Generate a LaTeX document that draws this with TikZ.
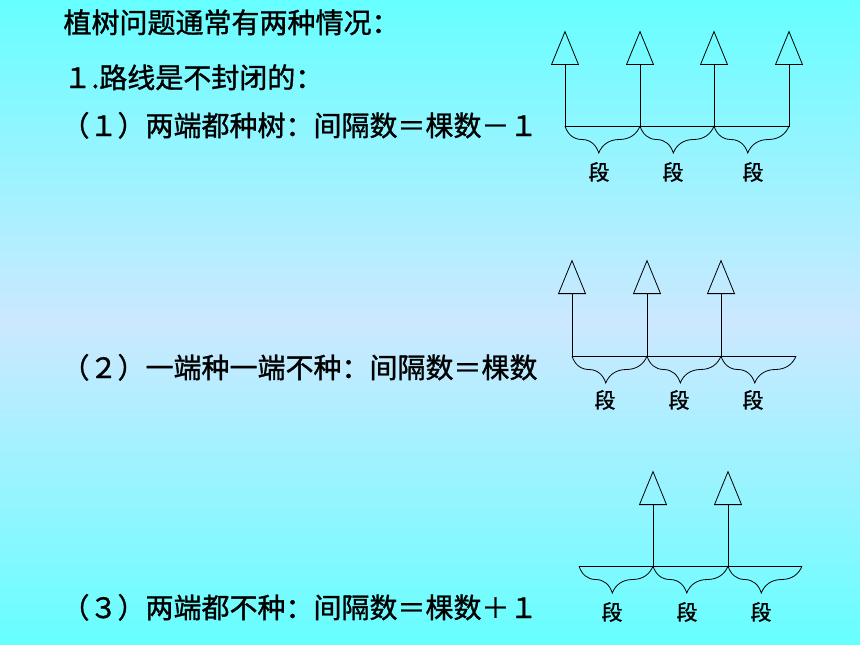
\documentclass[tikz,border=0pt]{standalone}
\usepackage{fontspec}
\setmainfont{Noto Sans CJK SC}[FakeBold=1.2]
\usetikzlibrary{shapes.geometric,decorations.pathreplacing}

\definecolor{bgTop}{RGB}{102,255,255}
\definecolor{bgMid}{RGB}{204,232,255}

\tikzset{
	tree/.style={draw, line width=0.8pt, isosceles triangle, isosceles triangle stretches, shape border rotate=90, minimum width=27pt, minimum height=33pt, inner sep=0pt, anchor=south},
	trunk/.style={line width=0.8pt},
	seg/.style={decorate, decoration={brace, mirror, amplitude=27pt, aspect=0.45}, line width=0.8pt},
	rule/.style={anchor=base west, font=\fontsize{28}{32}\selectfont},
	duan/.style={font=\fontsize{21}{24}\selectfont}
}

\begin{document}
\begin{tikzpicture}[x=1pt, y=-1pt]
	\useasboundingbox (0,0) rectangle (860,645);
	\shade[top color=bgTop, bottom color=bgTop, middle color=bgMid] (0,0) rectangle (860,645);

	% texts
	\node[rule] (head) at (60,33) {植树问题通常有两种情况：};
	\node[rule] (open) at (60,88) {１.路线是不封闭的：};
	\node[rule] (caseA) at (58,136) {（１）两端都种树：间隔数＝棵数－１};
	\node[rule] (caseB) at (58,378) {（２）一端种一端不种：间隔数＝棵数};
	\node[rule] (caseC) at (58,618) {（３）两端都不种：间隔数＝棵数＋１};

	% both ends planted
	\node[tree] (a1) at (565,65) {};
	\node[tree] (a2) at (640,65) {};
	\node[tree] (a3) at (714,65) {};
	\node[tree] (a4) at (789,65) {};
	\coordinate (p1) at (565,126);
	\coordinate (p2) at (640,126);
	\coordinate (p3) at (714,126);
	\coordinate (p4) at (789,126);
	\draw[trunk] (a1.south) -- (p1) -- (p4) -- (a4.south);
	\draw[trunk] (a2.south) -- (p2);
	\draw[trunk] (a3.south) -- (p3);
	\draw[seg] (p1) -- (p2);
	\draw[seg] (p2) -- (p3);
	\draw[seg] (p3) -- (p4);
	\node[duan] (d1) at (599,172) {段};
	\node[duan] (d2) at (673,172) {段};
	\node[duan] (d3) at (753,172) {段};

	% one end planted
	\node[tree] (b1) at (572,294) {};
	\node[tree] (b2) at (647,294) {};
	\node[tree] (b3) at (721,294) {};
	\coordinate (q1) at (572,356);
	\coordinate (q2) at (647,356);
	\coordinate (q3) at (721,356);
	\coordinate (q4) at (796,356);
	\draw[trunk] (b1.south) -- (q1) -- (q4);
	\draw[trunk] (b2.south) -- (q2);
	\draw[trunk] (b3.south) -- (q3);
	\draw[seg] (q1) -- (q2);
	\draw[seg] (q2) -- (q3);
	\draw[seg] (q3) -- (q4);
	\node[duan] (e1) at (605,400) {段};
	\node[duan] (e2) at (679,400) {段};
	\node[duan] (e3) at (753,400) {段};

	% no end planted
	\node[tree] (c1) at (653,505) {};
	\node[tree] (c2) at (728,505) {};
	\coordinate (r1) at (579,566);
	\coordinate (r2) at (653,566);
	\coordinate (r3) at (728,566);
	\coordinate (r4) at (802,566);
	\draw[trunk] (r1) -- (r4);
	\draw[trunk] (c1.south) -- (r2);
	\draw[trunk] (c2.south) -- (r3);
	\draw[seg] (r1) -- (r2);
	\draw[seg] (r2) -- (r3);
	\draw[seg] (r3) -- (r4);
	\node[duan] (f1) at (612,612) {段};
	\node[duan] (f2) at (687,612) {段};
	\node[duan] (f3) at (761,612) {段};

\end{tikzpicture}
\end{document}
